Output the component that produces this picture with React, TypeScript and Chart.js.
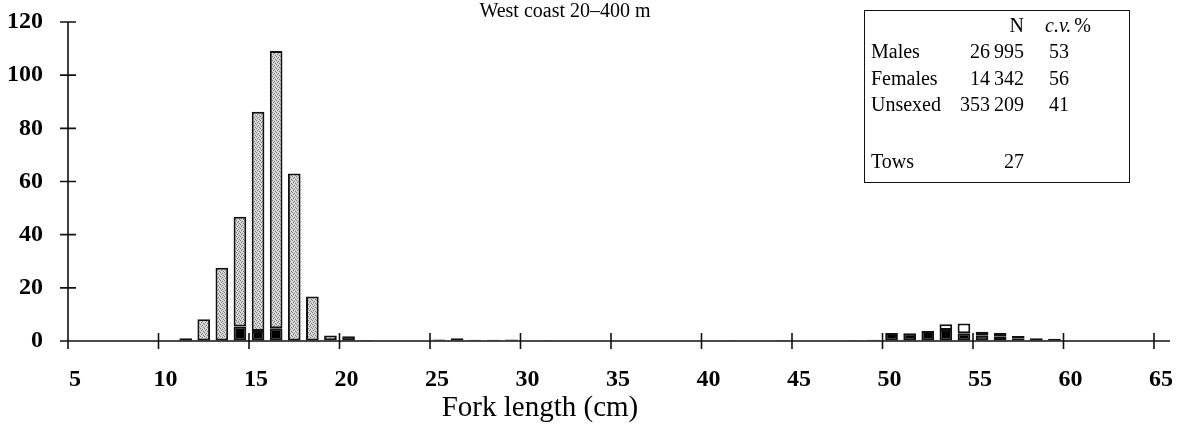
import React, { useEffect, useRef } from 'react';
import { Chart, registerables } from 'chart.js';

Chart.register(...registerables);

// Fork length classes (cm) with any catch
const lengthClasses = [11, 12, 13, 14, 15, 16, 17, 18, 19, 20, 21, 25, 26, 27, 28, 29, 31, 35, 36, 37, 38, 41, 44, 48, 49, 50, 51, 52, 53, 54, 55, 56, 57, 58, 59];
const males =        [1.0, 0, 0, 5.5, 3.8, 4.8, 0, 0, 0.3, 1.8, 0, 0.6, 1.0, 0.5, 0.5, 0.6, 0.3, 0, 0, 0, 0, 0.3, 0.4, 0.3, 0.5, 3.0, 2.9, 3.8, 4.1, 2.9, 2.0, 1.6, 1.0, 1.0, 0.8];
const females =      [0, 0, 0, 0, 0, 0, 0, 0, 0, 0, 0, 0, 0, 0, 0, 0, 0, 0, 0, 0, 0, 0, 0, 0, 0, 0, 0, 0, 2.2, 3.7, 1.5, 1.4, 0.9, 0, 0];
const unsexed =      [0, 8.2, 27.6, 41.2, 82.4, 104.3, 63.0, 16.7, 1.8, 0, 0.4, 0, 0, 0, 0, 0, 0, 0.2, 0.2, 0.2, 0.2, 0, 0, 0, 0, 0, 0, 0, 0, 0, 0, 0, 0, 0, 0];

const xTicks = [5, 10, 15, 20, 25, 30, 35, 40, 45, 50, 55, 60, 65];
const yTicks = [0, 20, 40, 60, 80, 100, 120];

const titleText = 'West coast 20\u2013400 m';
const xAxisTitle = 'Fork length (cm)';

const legendLabels = ['Males', 'Females', 'Unsexed'];
const legendN = ['26\u2009995', '14\u2009342', '353\u2009209'];
const legendCV = ['53', '56', '41'];
const towsLabel = 'Tows';
const towsN = '27';

const SERIF = '"Liberation Serif", "Times New Roman", serif';

function makeStipple(): CanvasPattern | string {
  const c = document.createElement('canvas');
  c.width = 4;
  c.height = 4;
  const g = c.getContext('2d');
  if (!g) return '#c0c0c0';
  g.fillStyle = '#d6d6d6';
  g.fillRect(0, 0, 4, 4);
  g.fillStyle = '#7a7a7a';
  g.fillRect(0, 0, 1, 1);
  g.fillRect(2, 1, 1, 1);
  g.fillRect(1, 2, 1, 1);
  g.fillRect(3, 3, 1, 1);
  const p = g.createPattern(c, 'repeat');
  return p || '#c0c0c0';
}

const overlayPlugin = {
  id: 'overlay',
  afterDraw(chart: any) {
    const ctx = chart.ctx;
    const xs = chart.scales.x;
    const ys = chart.scales.y;
    const x0 = xs.getPixelForValue(xTicks[0]);
    const x1 = xs.getPixelForValue(xTicks[xTicks.length - 1]);
    const y0 = ys.getPixelForValue(0);
    const yTop = ys.getPixelForValue(yTicks[yTicks.length - 1]);
    ctx.save();
    ctx.strokeStyle = '#111';
    ctx.lineWidth = 1.6;
    ctx.beginPath();
    // axes
    ctx.moveTo(x0, yTop);
    ctx.lineTo(x0, y0 + 8);
    ctx.moveTo(x0 - 8, y0);
    ctx.lineTo(x1 + 16, y0);
    // y ticks
    yTicks.forEach((v) => {
      const py = ys.getPixelForValue(v);
      ctx.moveTo(x0 - 8, py);
      ctx.lineTo(x0 + 8, py);
    });
    // x ticks
    xTicks.forEach((v) => {
      const px = xs.getPixelForValue(v);
      ctx.moveTo(px, y0 - 8);
      ctx.lineTo(px, y0 + 8);
    });
    ctx.stroke();

    // title
    ctx.fillStyle = '#000';
    ctx.font = `20px ${SERIF}`;
    ctx.textAlign = 'center';
    ctx.textBaseline = 'middle';
    ctx.fillText(titleText, 565, 12);

    // x axis title
    ctx.font = `29px ${SERIF}`;
    ctx.fillText(xAxisTitle, 540, 408);

    // legend box
    ctx.lineWidth = 1;
    ctx.strokeRect(864.5, 10.5, 265, 172);
    ctx.font = `20px ${SERIF}`;
    ctx.textBaseline = 'middle';
    ctx.textAlign = 'right';
    ctx.fillText('N', 1024, 27);
    ctx.textAlign = 'left';
    ctx.font = `italic 20px ${SERIF}`;
    ctx.fillText('c.v.', 1045, 27);
    const w = ctx.measureText('c.v.').width;
    ctx.font = `20px ${SERIF}`;
    ctx.fillText('%', 1045 + w + 3, 27);
    const rowsY = [53, 80, 106];
    legendLabels.forEach((lab, i) => {
      ctx.textAlign = 'left';
      ctx.fillText(lab, 871, rowsY[i]);
      ctx.textAlign = 'right';
      ctx.fillText(legendN[i], 1024, rowsY[i]);
      ctx.fillText(legendCV[i], 1069, rowsY[i]);
    });
    ctx.textAlign = 'left';
    ctx.fillText(towsLabel, 871, 163);
    ctx.textAlign = 'right';
    ctx.fillText(towsN, 1024, 163);
    ctx.restore();
  },
};

export default function App() {
  const ref = useRef<HTMLCanvasElement | null>(null);
  useEffect(() => {
    if (!ref.current) return;
    const stipple = makeStipple();
    const pts = (arr: number[]) => lengthClasses.map((c, i) => ({ x: c + 0.5, y: arr[i] }));
    const common = {
      borderColor: '#111',
      borderWidth: 2,
      borderSkipped: false,
      barPercentage: 0.7,
      categoryPercentage: 1,
    };
    const chart = new Chart(ref.current, {
      type: 'bar',
      data: {
        datasets: [
          { label: 'Males', data: pts(males), backgroundColor: '#000', ...common },
          { label: 'Females', data: pts(females), backgroundColor: '#fff', ...common },
          { label: 'Unsexed', data: pts(unsexed), backgroundColor: stipple, ...common },
        ],
      } as any,
      options: {
        responsive: false,
        animation: false,
        layout: { padding: { top: 22, right: 33, left: 0, bottom: 0 } },
        plugins: { legend: { display: false }, tooltip: { enabled: false }, title: { display: false } },
        scales: {
          x: {
            type: 'linear',
            stacked: true,
            offset: false,
            min: 5,
            max: 65,
            afterBuildTicks: (s: any) => { s.ticks = xTicks.map((v) => ({ value: v })); },
            afterFit: (s: any) => { s.height = 90; },
            grid: { display: false, drawTicks: false },
            border: { display: false },
            ticks: {
              padding: 24,
              labelOffset: 7,
              color: '#000',
              font: { family: SERIF, size: 24, weight: 'bold' },
              maxRotation: 0,
              autoSkip: false,
            },
          },
          y: {
            type: 'linear',
            stacked: true,
            min: 0,
            max: 120,
            afterBuildTicks: (s: any) => { s.ticks = yTicks.map((v) => ({ value: v })); },
            afterFit: (s: any) => { s.width = 68; },
            grid: {
              display: true,
              drawOnChartArea: false,
              drawTicks: true,
              tickLength: 25,
              tickColor: 'rgba(0,0,0,0)',
              color: 'rgba(0,0,0,0)',
            },
            border: { display: false },
            ticks: {
              padding: 0,
              color: '#000',
              font: { family: SERIF, size: 24, weight: 'bold' },
            },
          },
        },
      } as any,
      plugins: [overlayPlugin],
    });
    return () => chart.destroy();
  }, []);
  return (
    <div style={{ position: 'absolute', left: 0, top: 0, width: 1190, height: 431, background: '#fff' }}>
      <canvas ref={ref} width={1190} height={431} />
    </div>
  );
}
